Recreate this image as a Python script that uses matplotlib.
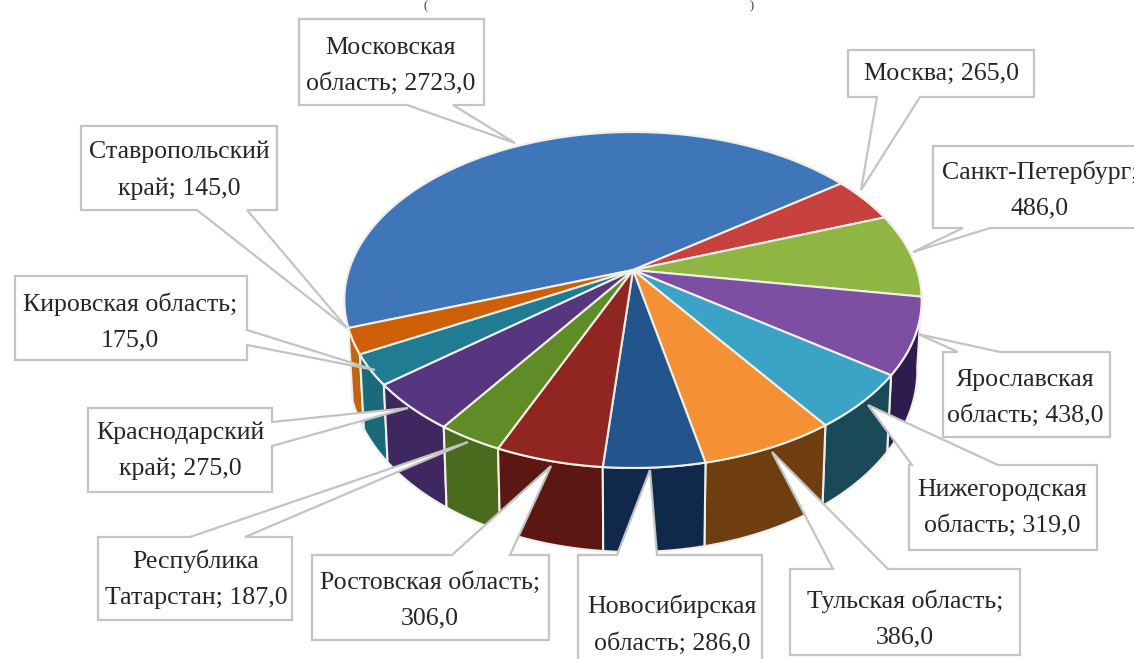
import matplotlib
matplotlib.use("Agg")
import matplotlib.pyplot as plt
import numpy as np

plt.rcParams["font.family"] = ["Liberation Serif", "DejaVu Serif"]

regions = [
    "Московская\nобласть", "Москва", "Санкт-Петербург", "Ярославская\nобласть",
    "Нижегородская\nобласть", "Тульская область", "Новосибирская\nобласть",
    "Ростовская область", "Республика\nТатарстан", "Краснодарский\nкрай",
    "Кировская область", "Ставропольский\nкрай",
]
values = [2723.0, 265.0, 486.0, 438.0, 319.0, 386.0, 286.0, 306.0, 187.0, 275.0, 175.0, 145.0]
top_colors = [
    "#3F76B9", "#C8413F", "#8FB543", "#7C4FA3", "#3BA3C6", "#F59135",
    "#23548C", "#8F2622", "#5F8C27", "#55367F", "#1F7C92", "#CF5F06",
]
side_colors = [
    "#2A4F7C", "#862B2A", "#5F7A2C", "#2E1C4C", "#1A4A58", "#6E3D10",
    "#10294A", "#5C1713", "#4A6B1D", "#3F2860", "#1B6A7B", "#C0640F",
]


def disc_point(theta):
    # perspective view of the pie top, the apex sits above the ellipse middle
    u, v = np.cos(theta), np.sin(theta)
    w = 1 + 0.1786 * v
    return 633 + 284 * u / w, 270 - 162.6 * v / w


def floor_point(x, y):
    return 633 + 0.985 * (x - 633), 1.08 * y + 46.6


# box (left, top, right, bottom), callout tip, two points where it leaves the box, text centre
callouts = [
    ((299, 19, 484, 105), (515, 143), (407, 105), (453, 105), (391, 66)),
    ((848, 50, 1034, 97), (861, 190), (877, 97), (920, 97), (941, 74)),
    ((933, 146, 1142, 228), (913, 252), (963, 228), (990, 228), (1040, 190)),
    ((943, 352, 1110, 437), (918, 334), (958, 352), (1000, 352), (1025, 398)),
    ((909, 465, 1097, 550), (868, 405), (912, 465), (998, 465), (1002, 508)),
    ((790, 569, 1020, 655), (772, 452), (833, 569), (888, 569), (905, 619)),
    ((578, 555, 762, 665), (650, 470), (617, 555), (657, 555), (672, 625)),
    ((312, 555, 549, 640), (551, 466), (452, 555), (510, 555), (430, 600)),
    ((98, 537, 292, 620), (468, 442), (190, 537), (245, 537), (196, 579)),
    ((88, 408, 272, 492), (408, 408), (272, 422), (272, 446), (180, 451)),
    ((15, 276, 247, 360), (375, 370), (247, 330), (247, 345), (130, 322)),
    ((81, 126, 277, 210), (347, 328), (197, 210), (247, 210), (179, 170)),
]

fig = plt.figure(figsize=(11.34, 6.59), dpi=100)
ax = fig.add_axes([0, 0, 1, 1])
ax.set_xlim(0, 1134)
ax.set_ylim(659, 0)
ax.axis("off")

total = sum(values)
edges = np.radians(199.6) - np.cumsum([0] + values) / total * 2 * np.pi

# side walls, far ones first
order = sorted(range(len(values)), key=lambda i: np.sin((edges[i] + edges[i + 1]) / 2), reverse=True)
for i in order:
    if np.sin((edges[i] + edges[i + 1]) / 2) >= 0:
        continue
    x, y = disc_point(np.linspace(edges[i], edges[i + 1], 60))
    xb, yb = floor_point(x, y)
    ax.fill(np.r_[x, xb[::-1]], np.r_[y, yb[::-1]], facecolor=side_colors[i],
            edgecolor="#F2EEE8", linewidth=1.5, zorder=2)

# top slices
for i in range(len(values)):
    x, y = disc_point(np.linspace(edges[i], edges[i + 1], 120))
    ax.fill(np.r_[633, x], np.r_[270, y], facecolor=top_colors[i],
            edgecolor="#F2EEE8", linewidth=1.5, zorder=3)

# label boxes
for (name, value), (box, tip, p1, p2, centre) in zip(zip(regions, values), callouts):
    left, top, right, bottom = box
    if p1[1] == top:
        pts = [(left, top), p1, tip, p2, (right, top), (right, bottom), (left, bottom)]
    elif p1[1] == bottom:
        pts = [(left, top), (right, top), (right, bottom), p2, tip, p1, (left, bottom)]
    else:
        pts = [(left, top), (right, top), p1, tip, p2, (right, bottom), (left, bottom)]
    px, py = zip(*pts)
    ax.fill(px, py, facecolor="white", edgecolor="#C4C4C4", linewidth=1.6, zorder=4)
    text = f"{name}; {value:.1f}".replace(".", ",")
    if name in ("Санкт-Петербург", "Тульская область", "Ростовская область", "Кировская область"):
        text = f"{name};\n{value:.1f}".replace(".", ",")
    ax.text(centre[0], centre[1], text, ha="center", va="center", fontsize=18.6,
            linespacing=1.8, color="#262626", zorder=5)

# bits of the cropped title
ax.text(425, 6, "(", ha="center", va="center", fontsize=9, color="#333333")
ax.text(752, 6, ")", ha="center", va="center", fontsize=9, color="#333333")

fig.savefig("out.png", dpi=100)
